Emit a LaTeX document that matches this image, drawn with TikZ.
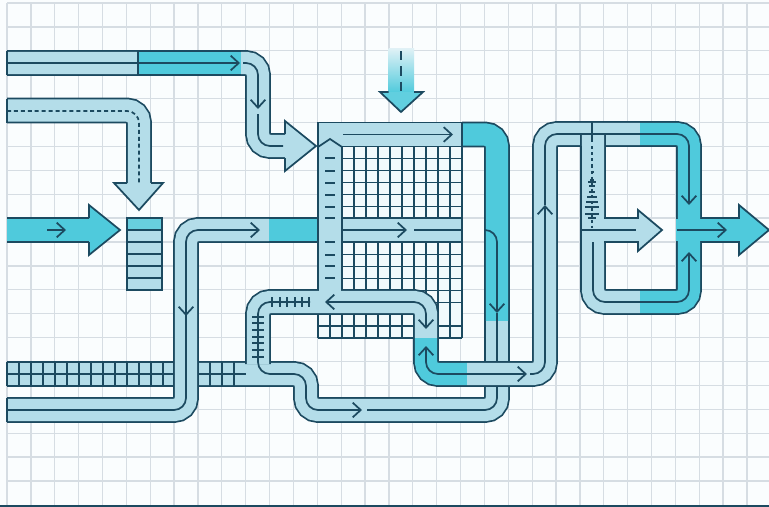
\documentclass[tikz,border=0pt]{standalone}
\usetikzlibrary{arrows.meta}
\definecolor{dk}{HTML}{1C4A60}
\definecolor{lt}{HTML}{B4DDE9}
\definecolor{tl}{HTML}{4FCADC}
\definecolor{gr}{HTML}{D6DDE3}
\definecolor{bg}{HTML}{FAFDFE}
\definecolor{cellc}{HTML}{F2FAFC}
\tikzset{
  pipe/.style={draw=dk,line width=1.3pt,double=lt,double distance=16.7pt,rounded corners=9pt},
  tealpipe/.style={pipe,double=tl},
  cl/.style={draw=dk,line width=1.3pt,rounded corners=9pt},
  ah/.style={-{Straight Barb[length=6pt,width=11pt]}},
  both/.style={{Straight Barb[length=6pt,width=11pt]}-{Straight Barb[length=6pt,width=11pt]}},
  edge/.style={draw=dk,line width=1.3pt},
  headshape/.style={draw=dk,line width=1.3pt},
  cellline/.style={draw=dk,line width=1.2pt},
  tick/.style={draw=dk,line width=1.1pt},
  gridline/.style={draw=gr,line width=.95pt},
}
\begin{document}
\begin{tikzpicture}[x=.75pt,y=-.75pt]
\useasboundingbox (0,0) rectangle (769,507);
\fill[bg] (0,0) rectangle (769,507);
% paper grid
\foreach \i in {0,...,31} \draw[gridline] ({7+23.87*\i},3) -- ({7+23.87*\i},505);
\foreach \i in {0,...,20} \draw[gridline] (7,{3+23.9*\i}) -- (769,{3+23.9*\i});
\fill[dk] (0,505) rectangle (769,507);
% cell grid in the central block
\fill[cellc] (342,147) rectangle (462,338);
\fill[cellc] (318,314) rectangle (342,338);
\foreach \x in {354,366,...,450,462} \draw[cellline] (\x,147) -- (\x,338);
\foreach \x in {318,330,342} \draw[cellline] (\x,314) -- (\x,338);
\draw[cellline] (342,147) -- (342,290);
\foreach \y in {146.5,158.5,...,278.5} \draw[cellline] (342,\y) -- (462,\y);
\foreach \y in {290.5,302.5} \draw[cellline] (342,\y) -- (462,\y);
\draw[cellline] (318,326) -- (462,326);
\draw[cellline] (318,338) -- (462,338);
% left stack band
\fill[lt] (7,362) rectangle (175,386);
\foreach \y in {362,374,386} \draw[cellline] (7,\y) -- (178,\y);
\foreach \x in {7,19,31,...,163} \draw[cellline] (\x,362) -- (\x,386);
% lower return pipe
\draw[pipe] (196,374) -- (306,374) -- (306,410) -- (497,410) -- (497,386);
\foreach \x in {210,222,234} \draw[cellline] (\x,362) -- (\x,386);
\draw[cl] (196,374) -- (246,374);
% left arch
\draw[pipe] (258,364) -- (258,302) -- (426,302) -- (426,339);
% vertical pipe with bottom run
\draw[pipe] (318,230) -- (186,230) -- (186,410) -- (7,410);
\draw[edge] (7,398) -- (7,422);
\draw[tealpipe] (269,230) -- (318,230);
% top pipe
\draw[pipe] (7,63) -- (258,63) -- (258,146) -- (290,146);
\draw[tealpipe] (138,63) -- (241,63);
\draw[edge] (7,51) -- (7,75);
\draw[edge] (138,51) -- (138,75);
\path[fill=lt,headshape] (285,134) -- (285,121) -- (316,146) -- (285,171) -- (285,158);
% second pipe
\draw[pipe] (7,110.5) -- (139,110.5) -- (139,184);
\draw[edge] (7,98.5) -- (7,122.5);
\path[fill=lt,headshape] (127,183) -- (114,183) -- (139,210) -- (163,183) -- (151,183);
% teal input
\fill[tl] (7,218) rectangle (89,242);
\draw[edge] (7,218) -- (89,218);
\draw[edge] (7,242) -- (89,242);
\path[fill=tl,headshape] (89,218) -- (89,205) -- (120,230) -- (89,255) -- (89,242);
% stack
\draw[edge,fill=lt] (127,218) rectangle (162,290);
\draw[edge,fill=tl!75!lt] (127,218) rectangle (162,230);
\foreach \y in {242,254,266,278} \draw[edge] (127,\y) -- (162,\y);
% top arrow
\shade[top color=lt!40!white,bottom color=tl] (388.5,48) rectangle (414,93);
\path[fill=tl!90!white,headshape] (388.5,92) -- (380,92) -- (401,112) -- (423,92) -- (414,92);
\draw[edge,dash pattern=on 7pt off 4.5pt] (401,51) -- (401,93);
% central block
\draw[edge,fill=lt] (318,122.5) rectangle (462,146.5);
\fill[lt] (318.7,146) rectangle (341.3,313.2);
\draw[edge] (318,146) -- (318,290);
\draw[edge] (342,147) -- (342,290);
\draw[edge] (318,147) -- (330,139) -- (342,147);
\foreach \y in {158,171,183,195,207,218,242,255,266,278} \draw[tick] (325,\y) -- (335,\y);
% band through the grid
\draw[edge,fill=lt] (342,218) rectangle (462,242);
% teal corner and its vertical
\draw[tealpipe] (462,134.5) -- (497,134.5) -- (497,321);
\draw[pipe] (497,321) -- (497,362);
\draw[edge] (462,122.5) -- (462,146.5);
% main riser and right loop
\draw[tealpipe] (426,338) -- (426,374) -- (467,374);
\draw[pipe] (467,374) -- (545,374) -- (545,134) -- (640,134);
\draw[tealpipe] (640,134) -- (689,134) -- (689,230);
\draw[pipe] (593,134) -- (593,302) -- (640,302);
\draw[tealpipe] (640,302) -- (689,302) -- (689,230);
% central arrow of loop
\path[fill=lt,headshape] (604,218) -- (638,218) -- (638,210) -- (662,230) -- (638,251) -- (638,242) -- (604,242);
\draw[edge] (581,146) -- (581,290);
% output arrow
\fill[tl] (676,218.7) rectangle (702,241.3);
\path[fill=tl,headshape] (701,218) -- (739,218) -- (739,205) -- (769,230) -- (739,255) -- (739,242) -- (701,242);
% centre lines and arrowheads
\draw[cl,ah] (7,63) -- (240,63);
\draw[cl,ah] (243,63) -- (258,63) -- (258,109);
\draw[cl] (258,114) -- (258,146) -- (283,146);
\draw[cl,dash pattern=on 3pt off 2.2pt] (7,111) -- (139,111) -- (139,184);
\draw[cl,ah] (47,230) -- (66,230);
\draw[cl,ah] (186,316) -- (186,230) -- (260,230);
\draw[cl,ah] (186,280) -- (186,316);
\draw[cl] (186,316) -- (186,410) -- (7,410);
\draw[cl,ah] (343,134.5) -- (453,134.5);
\draw[cl,ah] (343,230) -- (407,230);
\draw[cl] (414,230) -- (462,230);
\draw[cl,ah] (485,230) -- (497,230) -- (497,313);
\draw[cl] (497,313) -- (497,362);
\draw[cl] (310,302) -- (258,302) -- (258,374) -- (306,374) -- (306,410) -- (345,410);
\draw[cl,ah] (345,410) -- (362,410);
\draw[cl] (367,410) -- (497,410) -- (497,386);
\foreach \x in {272,280,287,295,302,309} \draw[tick] (\x,297) -- (\x,307);
\foreach \y in {317,323,330,337,343,350,357} \draw[tick] (252,\y) -- (264,\y);
\draw[cl,both] (325,302) -- (426,302) -- (426,329);
\draw[cl,both] (426,346) -- (426,374) -- (527,374);
\draw[cl,ah] (530,374) -- (545,374) -- (545,205);
\draw[cl,ah] (545,205) -- (545,134) -- (689,134) -- (689,205);
\draw[cl,ah] (593,242) -- (593,302) -- (689,302) -- (689,252);
\draw[cl] (581,230) -- (636,230);
\draw[cl,ah] (677,230) -- (727,230);
% measuring ticks on the loop's stem
\draw[edge] (592,122) -- (592,142);
\draw[cl,dash pattern=on 2.4pt off 2.2pt] (592,146) -- (592,228);
\foreach \y/\w in {172/1.5,180/2,182/4,186/3,192/3,197/5,202/6,207/7,214/7,218/4}
  \draw[tick,line width=.8pt] ({592-\w},\y) -- ({592+\w},\y);
\end{tikzpicture}
\end{document}
